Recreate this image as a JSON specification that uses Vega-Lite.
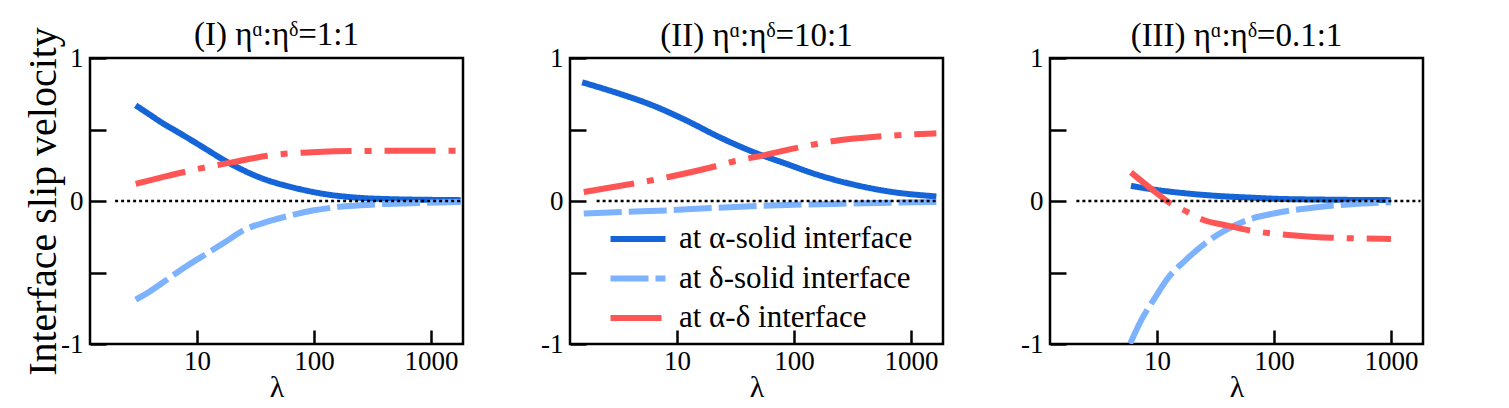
{
  "$schema": "https://vega.github.io/schema/vega-lite/v6.json",
  "padding": {"left": 22, "top": 17, "right": 5, "bottom": 0},
  "background": "white",
  "bounds": "flush",
  "config": {
    "font": "Liberation Serif",
    "view": {"stroke": "black", "strokeWidth": 2.5},
    "axis": {"domain": false, "grid": false, "tickColor": "black", "tickWidth": 2.5, "labelColor": "black", "labelFont": "Liberation Serif", "labelFontSize": 27, "titleFont": "Liberation Serif", "titleFontWeight": "normal", "titleColor": "black"},
    "title": {"font": "Liberation Serif", "fontSize": 33, "fontWeight": "normal", "color": "black", "offset": 10, "frame": "group"},
    "concat": {"spacing": 107}
  },
  "datasets": {
    "curves": [
      {"panel": "I", "series": "at α-solid interface", "lam": 3, "v": 0.669},
      {"panel": "I", "series": "at α-solid interface", "lam": 4, "v": 0.601},
      {"panel": "I", "series": "at α-solid interface", "lam": 4.92, "v": 0.552},
      {"panel": "I", "series": "at α-solid interface", "lam": 7, "v": 0.478},
      {"panel": "I", "series": "at α-solid interface", "lam": 9.5, "v": 0.413},
      {"panel": "I", "series": "at α-solid interface", "lam": 12, "v": 0.362},
      {"panel": "I", "series": "at α-solid interface", "lam": 17.1, "v": 0.285},
      {"panel": "I", "series": "at α-solid interface", "lam": 23, "v": 0.229},
      {"panel": "I", "series": "at α-solid interface", "lam": 29, "v": 0.19},
      {"panel": "I", "series": "at α-solid interface", "lam": 40, "v": 0.145},
      {"panel": "I", "series": "at α-solid interface", "lam": 56, "v": 0.11},
      {"panel": "I", "series": "at α-solid interface", "lam": 75, "v": 0.084},
      {"panel": "I", "series": "at α-solid interface", "lam": 100, "v": 0.062},
      {"panel": "I", "series": "at α-solid interface", "lam": 140, "v": 0.042},
      {"panel": "I", "series": "at α-solid interface", "lam": 200, "v": 0.028},
      {"panel": "I", "series": "at α-solid interface", "lam": 270, "v": 0.02},
      {"panel": "I", "series": "at α-solid interface", "lam": 500, "v": 0.012},
      {"panel": "I", "series": "at α-solid interface", "lam": 1000, "v": 0.008},
      {"panel": "I", "series": "at α-solid interface", "lam": 1800, "v": 0.006},
      {"panel": "I", "series": "at δ-solid interface", "lam": 3, "v": -0.69},
      {"panel": "I", "series": "at δ-solid interface", "lam": 4, "v": -0.63},
      {"panel": "I", "series": "at δ-solid interface", "lam": 6, "v": -0.53},
      {"panel": "I", "series": "at δ-solid interface", "lam": 8, "v": -0.46},
      {"panel": "I", "series": "at δ-solid interface", "lam": 12.35, "v": -0.364},
      {"panel": "I", "series": "at δ-solid interface", "lam": 18, "v": -0.28},
      {"panel": "I", "series": "at δ-solid interface", "lam": 25, "v": -0.205},
      {"panel": "I", "series": "at δ-solid interface", "lam": 40, "v": -0.145},
      {"panel": "I", "series": "at δ-solid interface", "lam": 60, "v": -0.105},
      {"panel": "I", "series": "at δ-solid interface", "lam": 100, "v": -0.065},
      {"panel": "I", "series": "at δ-solid interface", "lam": 144, "v": -0.046},
      {"panel": "I", "series": "at δ-solid interface", "lam": 200, "v": -0.035},
      {"panel": "I", "series": "at δ-solid interface", "lam": 350, "v": -0.023},
      {"panel": "I", "series": "at δ-solid interface", "lam": 870, "v": -0.013},
      {"panel": "I", "series": "at δ-solid interface", "lam": 1800, "v": -0.007},
      {"panel": "I", "series": "at α-δ interface", "lam": 3, "v": 0.12},
      {"panel": "I", "series": "at α-δ interface", "lam": 5, "v": 0.165},
      {"panel": "I", "series": "at α-δ interface", "lam": 7.8, "v": 0.203},
      {"panel": "I", "series": "at α-δ interface", "lam": 10.7, "v": 0.228},
      {"panel": "I", "series": "at α-δ interface", "lam": 15.1, "v": 0.252},
      {"panel": "I", "series": "at α-δ interface", "lam": 20, "v": 0.27},
      {"panel": "I", "series": "at α-δ interface", "lam": 31.9, "v": 0.303},
      {"panel": "I", "series": "at α-δ interface", "lam": 40, "v": 0.316},
      {"panel": "I", "series": "at α-δ interface", "lam": 56, "v": 0.33},
      {"panel": "I", "series": "at α-δ interface", "lam": 78, "v": 0.338},
      {"panel": "I", "series": "at α-δ interface", "lam": 107, "v": 0.343},
      {"panel": "I", "series": "at α-δ interface", "lam": 207, "v": 0.349},
      {"panel": "I", "series": "at α-δ interface", "lam": 500, "v": 0.351},
      {"panel": "I", "series": "at α-δ interface", "lam": 1800, "v": 0.352},
      {"panel": "II", "series": "at α-solid interface", "lam": 1.55, "v": 0.83},
      {"panel": "II", "series": "at α-solid interface", "lam": 3.18, "v": 0.752},
      {"panel": "II", "series": "at α-solid interface", "lam": 6.14, "v": 0.67},
      {"panel": "II", "series": "at α-solid interface", "lam": 11.9, "v": 0.565},
      {"panel": "II", "series": "at α-solid interface", "lam": 22.9, "v": 0.448},
      {"panel": "II", "series": "at α-solid interface", "lam": 44, "v": 0.346},
      {"panel": "II", "series": "at α-solid interface", "lam": 84.7, "v": 0.262},
      {"panel": "II", "series": "at α-solid interface", "lam": 164, "v": 0.18},
      {"panel": "II", "series": "at α-solid interface", "lam": 316, "v": 0.117},
      {"panel": "II", "series": "at α-solid interface", "lam": 610, "v": 0.07},
      {"panel": "II", "series": "at α-solid interface", "lam": 1650, "v": 0.032},
      {"panel": "II", "series": "at δ-solid interface", "lam": 1.6, "v": -0.088},
      {"panel": "II", "series": "at δ-solid interface", "lam": 3.4, "v": -0.077},
      {"panel": "II", "series": "at δ-solid interface", "lam": 8.5, "v": -0.065},
      {"panel": "II", "series": "at δ-solid interface", "lam": 20.1, "v": -0.049},
      {"panel": "II", "series": "at δ-solid interface", "lam": 50.5, "v": -0.035},
      {"panel": "II", "series": "at δ-solid interface", "lam": 118, "v": -0.025},
      {"panel": "II", "series": "at δ-solid interface", "lam": 295, "v": -0.018},
      {"panel": "II", "series": "at δ-solid interface", "lam": 741, "v": -0.011},
      {"panel": "II", "series": "at δ-solid interface", "lam": 1650, "v": -0.007},
      {"panel": "II", "series": "at α-δ interface", "lam": 1.6, "v": 0.063},
      {"panel": "II", "series": "at α-δ interface", "lam": 4.28, "v": 0.122},
      {"panel": "II", "series": "at α-δ interface", "lam": 6.14, "v": 0.145},
      {"panel": "II", "series": "at α-δ interface", "lam": 8.5, "v": 0.168},
      {"panel": "II", "series": "at α-δ interface", "lam": 21.4, "v": 0.243},
      {"panel": "II", "series": "at α-δ interface", "lam": 31, "v": 0.278},
      {"panel": "II", "series": "at α-δ interface", "lam": 50.5, "v": 0.313},
      {"panel": "II", "series": "at α-δ interface", "lam": 110, "v": 0.374},
      {"panel": "II", "series": "at α-δ interface", "lam": 213, "v": 0.418},
      {"panel": "II", "series": "at α-δ interface", "lam": 571, "v": 0.453},
      {"panel": "II", "series": "at α-δ interface", "lam": 1650, "v": 0.473},
      {"panel": "III", "series": "at α-solid interface", "lam": 6.0, "v": 0.106},
      {"panel": "III", "series": "at α-solid interface", "lam": 9.06, "v": 0.082},
      {"panel": "III", "series": "at α-solid interface", "lam": 17.5, "v": 0.054},
      {"panel": "III", "series": "at α-solid interface", "lam": 33.8, "v": 0.035},
      {"panel": "III", "series": "at α-solid interface", "lam": 65.6, "v": 0.023},
      {"panel": "III", "series": "at α-solid interface", "lam": 100, "v": 0.016},
      {"panel": "III", "series": "at α-solid interface", "lam": 250, "v": 0.01},
      {"panel": "III", "series": "at α-solid interface", "lam": 1000, "v": 0.006},
      {"panel": "III", "series": "at δ-solid interface", "lam": 5.9, "v": -0.998},
      {"panel": "III", "series": "at δ-solid interface", "lam": 7.43, "v": -0.826},
      {"panel": "III", "series": "at δ-solid interface", "lam": 9.67, "v": -0.674},
      {"panel": "III", "series": "at δ-solid interface", "lam": 12.6, "v": -0.533},
      {"panel": "III", "series": "at δ-solid interface", "lam": 17.5, "v": -0.415},
      {"panel": "III", "series": "at δ-solid interface", "lam": 26, "v": -0.294},
      {"panel": "III", "series": "at δ-solid interface", "lam": 38.6, "v": -0.204},
      {"panel": "III", "series": "at δ-solid interface", "lam": 61.4, "v": -0.129},
      {"panel": "III", "series": "at δ-solid interface", "lam": 100, "v": -0.087},
      {"panel": "III", "series": "at δ-solid interface", "lam": 222, "v": -0.045},
      {"panel": "III", "series": "at δ-solid interface", "lam": 430, "v": -0.024},
      {"panel": "III", "series": "at δ-solid interface", "lam": 1000, "v": -0.009},
      {"panel": "III", "series": "at α-δ interface", "lam": 6.0, "v": 0.2},
      {"panel": "III", "series": "at α-δ interface", "lam": 7.5, "v": 0.135},
      {"panel": "III", "series": "at α-δ interface", "lam": 9.06, "v": 0.082},
      {"panel": "III", "series": "at α-δ interface", "lam": 13, "v": -0.016},
      {"panel": "III", "series": "at α-δ interface", "lam": 18.1, "v": -0.075},
      {"panel": "III", "series": "at α-δ interface", "lam": 24.4, "v": -0.129},
      {"panel": "III", "series": "at α-δ interface", "lam": 41.3, "v": -0.174},
      {"panel": "III", "series": "at α-δ interface", "lam": 65.6, "v": -0.209},
      {"panel": "III", "series": "at α-δ interface", "lam": 100, "v": -0.228},
      {"panel": "III", "series": "at α-δ interface", "lam": 222, "v": -0.251},
      {"panel": "III", "series": "at α-δ interface", "lam": 430, "v": -0.26},
      {"panel": "III", "series": "at α-δ interface", "lam": 1000, "v": -0.265}
    ],
    "zero": [
      {"panel": "I", "lam": 2, "v": 0},
      {"panel": "I", "lam": 1800, "v": 0},
      {"panel": "II", "lam": 2.06, "v": 0},
      {"panel": "II", "lam": 1690, "v": 0},
      {"panel": "III", "lam": 2.05, "v": 0},
      {"panel": "III", "lam": 1790, "v": 0}
    ]
  },
  "resolve": {
    "scale": {"color": "independent", "strokeDash": "independent"},
    "legend": {"color": "independent", "strokeDash": "independent"}
  },
  "hconcat": [
    {
      "width": 373, "height": 286,
      "title": {"text": "(I) ηᵅ:ηᵟ=1:1", "dy": 35},
      "layer": [
        {
          "data": {"name": "curves"},
          "transform": [{"filter": "datum.panel == 'I'"}],
          "mark": {"type": "line", "strokeWidth": 6, "interpolate": "monotone", "clip": true},
          "encoding": {
            "x": {"field": "lam", "type": "quantitative", "scale": {"type": "log", "domain": [1.22, 1880], "nice": false},
                  "axis": {"values": [10, 100, 1000], "format": "d", "tickSize": -14, "labelPadding": 18, "title": "λ", "titleFontSize": 30, "titlePadding": -2}},
            "y": {"field": "v", "type": "quantitative", "scale": {"domain": [-1, 1], "nice": false},
                  "axis": {"values": [-1, -0.5, 0, 0.5, 1], "labelExpr": "abs(datum.value) == 0.5 ? '' : (datum.value < 0 ? '-1' : (datum.value > 0 ? '1' : '0'))", "tickSize": -16, "labelPadding": 23, "title": "Interface slip velocity", "titleFontSize": 40, "titlePadding": -3}},
            "color": {"field": "series", "type": "nominal", "scale": {"domain": ["at α-solid interface", "at δ-solid interface", "at α-δ interface"], "range": ["#1565d8", "#7db2ff", "#ff5555"]}, "legend": null},
            "strokeDash": {"field": "series", "type": "nominal", "scale": {"domain": ["at α-solid interface", "at δ-solid interface", "at α-δ interface"], "range": [[1, 0], [38, 7], [51, 13, 7, 13]]}, "legend": null}
          }
        },
        {
          "data": {"name": "zero"},
          "transform": [{"filter": "datum.panel == 'I'"}],
          "mark": {"type": "line", "color": "black", "strokeWidth": 2.5, "strokeDash": [3, 3]},
          "encoding": {"x": {"field": "lam", "type": "quantitative"}, "y": {"field": "v", "type": "quantitative"}}
        }
      ]
    },
    {
      "width": 373, "height": 286,
      "title": {"text": "(II) ηᵅ:ηᵟ=10:1", "dy": 19},
      "layer": [
        {
          "data": {"name": "curves"},
          "transform": [{"filter": "datum.panel == 'II'"}],
          "mark": {"type": "line", "strokeWidth": 6, "interpolate": "monotone", "clip": true},
          "encoding": {
            "x": {"field": "lam", "type": "quantitative", "scale": {"type": "log", "domain": [1.22, 1880], "nice": false},
                  "axis": {"values": [10, 100, 1000], "format": "d", "tickSize": -14, "labelPadding": 18, "title": "λ", "titleFontSize": 30, "titlePadding": -2}},
            "y": {"field": "v", "type": "quantitative", "scale": {"domain": [-1, 1], "nice": false},
                  "axis": {"values": [-1, -0.5, 0, 0.5, 1], "labelExpr": "abs(datum.value) == 0.5 ? '' : (datum.value < 0 ? '-1' : (datum.value > 0 ? '1' : '0'))", "tickSize": -16, "labelPadding": 23, "title": null}},
            "color": {"field": "series", "type": "nominal", "scale": {"domain": ["at α-solid interface", "at δ-solid interface", "at α-δ interface"], "range": ["#1565d8", "#7db2ff", "#ff5555"]},
                      "legend": {"orient": "none", "legendX": 51, "legendY": 164, "title": null, "symbolType": "M-2,0H2", "symbolSize": 756, "symbolStrokeWidth": 6, "labelFont": "Liberation Serif", "labelFontSize": 31, "labelColor": "black", "labelOffset": 24, "labelLimit": 0, "rowPadding": 7.5, "padding": 0}},
            "strokeDash": {"field": "series", "type": "nominal", "scale": {"domain": ["at α-solid interface", "at δ-solid interface", "at α-δ interface"], "range": [[1, 0], [38, 7], [51, 13, 7, 13]]}}
          }
        },
        {
          "data": {"name": "zero"},
          "transform": [{"filter": "datum.panel == 'II'"}],
          "mark": {"type": "line", "color": "black", "strokeWidth": 2.5, "strokeDash": [3, 3]},
          "encoding": {"x": {"field": "lam", "type": "quantitative"}, "y": {"field": "v", "type": "quantitative"}}
        }
      ]
    },
    {
      "width": 373, "height": 286,
      "title": {"text": "(III) ηᵅ:ηᵟ=0.1:1", "dy": 19},
      "layer": [
        {
          "data": {"name": "curves"},
          "transform": [{"filter": "datum.panel == 'III'"}],
          "mark": {"type": "line", "strokeWidth": 6, "interpolate": "monotone", "clip": true},
          "encoding": {
            "x": {"field": "lam", "type": "quantitative", "scale": {"type": "log", "domain": [1.22, 1880], "nice": false},
                  "axis": {"values": [10, 100, 1000], "format": "d", "tickSize": -14, "labelPadding": 18, "title": "λ", "titleFontSize": 30, "titlePadding": -2}},
            "y": {"field": "v", "type": "quantitative", "scale": {"domain": [-1, 1], "nice": false},
                  "axis": {"values": [-1, -0.5, 0, 0.5, 1], "labelExpr": "abs(datum.value) == 0.5 ? '' : (datum.value < 0 ? '-1' : (datum.value > 0 ? '1' : '0'))", "tickSize": -16, "labelPadding": 23, "title": null}},
            "color": {"field": "series", "type": "nominal", "scale": {"domain": ["at α-solid interface", "at δ-solid interface", "at α-δ interface"], "range": ["#1565d8", "#7db2ff", "#ff5555"]}, "legend": null},
            "strokeDash": {"field": "series", "type": "nominal", "scale": {"domain": ["at α-solid interface", "at δ-solid interface", "at α-δ interface"], "range": [[1, 0], [38, 7], [51, 13, 7, 13]]}, "legend": null}
          }
        },
        {
          "data": {"name": "zero"},
          "transform": [{"filter": "datum.panel == 'III'"}],
          "mark": {"type": "line", "color": "black", "strokeWidth": 2.5, "strokeDash": [3, 3]},
          "encoding": {"x": {"field": "lam", "type": "quantitative"}, "y": {"field": "v", "type": "quantitative"}}
        }
      ]
    }
  ]
}
